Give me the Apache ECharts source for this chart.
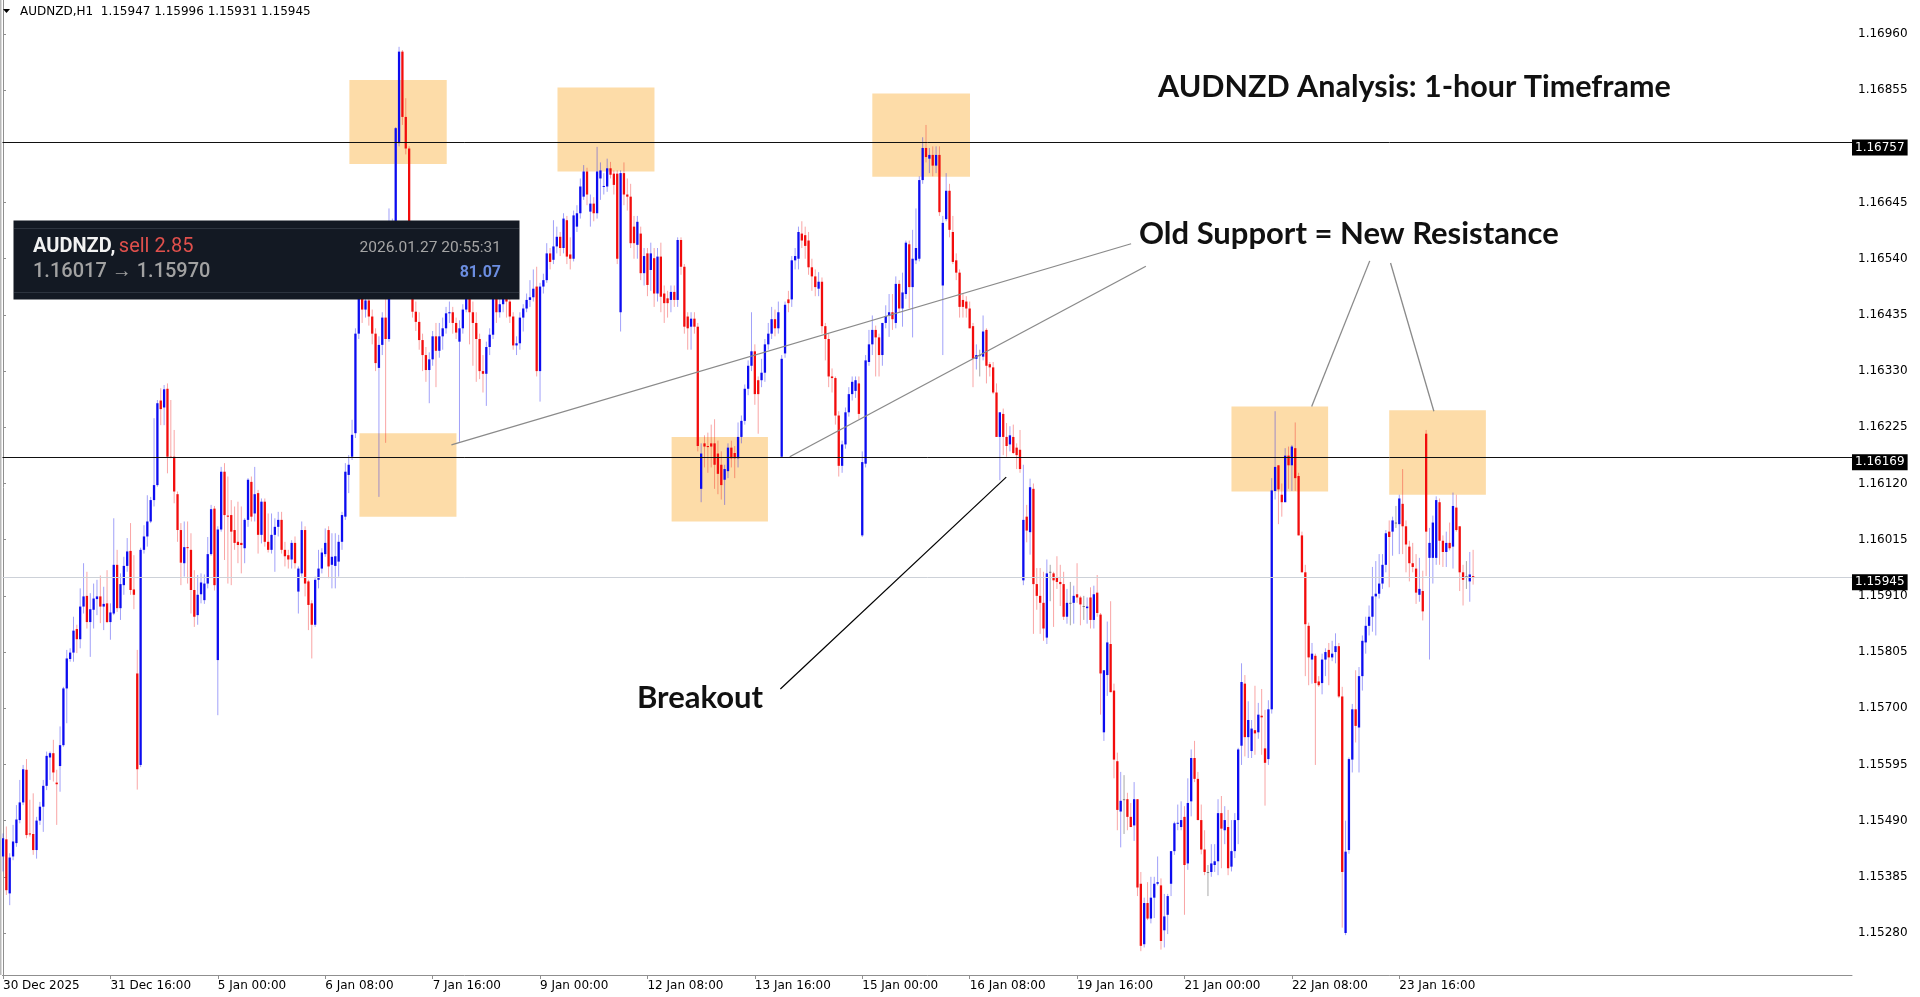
<!DOCTYPE html>
<html><head><meta charset="utf-8">
<script src="https://cdn.jsdelivr.net/npm/echarts@6/dist/echarts.min.js"></script>
<style>html,body{margin:0;padding:0;background:#fff;}#c{width:1920px;height:997px;}</style>
</head><body><div id="c"></div>
<script>
// AUDNZD H1 candles. Prices are stored in points (0.00001) above BASE.
const BASE = 1.15;
const openPts = [
423,455,354,423,448,491,524,585,466,465, 435,490,516,555,608,616,561,592,631,737,
792,804,848,829,890,910,861,884,904,909, 890,896,861,877,968,887,930,966,994,922,
765,594,996,1021,1049,1089,1117,1275,1262,1297, 1170,1170,1100,1033,971,1001,996,921,874,913,
902,933,988,1073,790,1034,1142,1060,1061,1033, 1011,1009,999,1052,1123,1064,1102,1024,1086,1011,
996,1024,1039,1052,996,986,978,1009,918,952, 1033,937,896,856,940,961,988,1033,968,966,
974,1011,1058,1136,1170,1214,1400,1470,1445,1462, 1432,1400,1336,1379,1430,1390,1560,1609,1756,1927,
1805,1746,1466,1441,1422,1388,1360,1332,1352,1395, 1368,1395,1410,1438,1440,1420,1385,1410,1445,1466,
1440,1420,1390,1330,1325,1375,1398,1466,1440,1455, 1480,1460,1432,1378,1382,1430,1447,1463,1468,1488,
1330,1488,1500,1550,1538,1563,1581,1560,1612,1548, 1540,1600,1625,1656,1703,1628,1643,1625,1690,1675,
1675,1709,1699,1699,1440,1700,1660,1656,1600,1566, 1587,1513,1550,1519,1541,1475,1544,1475,1466,1463,
1478,1463,1575,1525,1432,1413,1428,1413,1110,1195, 1190,1195,1195,1176,1155,1127,1143,1187,1177,1167,
1207,1237,1297,1340,1367,1313,1313,1327,1380,1400, 1427,1410,1170,1363,1464,1464,1537,1540,1587,1584,
1574,1524,1507,1484,1497,1414,1390,1320,1317,1247, 1153,1193,1253,1287,1293,1307,1023,1157,1347,1380,
1407,1393,1360,1420,1433,1440,1420,1493,1447,1474, 1567,1487,1537,1540,1687,1747,1727,1734,1714,1734,
1490,1614,1667,1590,1537,1514,1463,1460,1447,1414, 1353,1360,1357,1407,1343,1337,1290,1207,1250,1207,
1193,1207,1187,1183,939,1058,1029,1110,932,910, 897,832,955,952,945,936,932,871,897,897,
913,907,891,887,907,865,916,875,655,762, 820,733,601,507,530,530,497,481,530,372,
259,336,307,346,372,369,285,314,372,433, 485,478,497,410,526,607,568,491,436,394,
394,407,414,504,472,478,404,433,491,630, 746,646,620,659,655,686,625,605,698,1106,
1154,1099,1085,1172,1154,1186,1134,1023,954,854, 791,798,750,747,791,809,795,805,816,722,
280,435,604,698,664,760,823,854,871,909, 914,933,968,1030,1030,1047,1044,1082,1040,1002,
971,961,912,919,1213,981,981,981,1085,1013, 992,1009,1002,1075,1040,954,947,937,947];
const highPts = [
466,479,429,482,519,566,594,605,529,541, 497,525,566,619,619,641,585,666,740,809,
812,871,856,924,971,955,915,933,940,948, 927,958,896,1055,996,952,983,1018,1046,986,
809,1000,1042,1098,1095,1242,1276,1298,1304,1307, 1276,1220,1105,1046,1049,1049,1027,958,949,952,
950,1020,1080,1078,1040,1151,1158,1133,1089,1077, 1086,1077,1055,1130,1133,1151,1108,1092,1092,1064,
1064,1055,1067,1067,1011,996,1014,1021,965,1049, 1040,940,902,946,996,999,1036,1040,1027,1027,
1024,1067,1158,1173,1239,1410,1490,1500,1490,1480, 1445,1410,1395,1440,1470,1634,1615,1786,1936,1930,
1840,1750,1500,1460,1440,1400,1375,1365,1405,1420, 1420,1430,1450,1460,1450,1430,1425,1455,1490,1480,
1460,1440,1400,1360,1385,1410,1475,1480,1475,1495, 1490,1470,1440,1395,1440,1455,1475,1500,1520,1525,
1495,1512,1569,1560,1612,1600,1590,1625,1620,1580, 1630,1640,1690,1715,1710,1660,1655,1749,1720,1700,
1727,1721,1705,1705,1705,1720,1690,1680,1620,1620, 1600,1560,1560,1570,1560,1560,1570,1490,1480,1490,
1490,1580,1580,1530,1440,1440,1440,1420,1195,1210, 1215,1230,1240,1200,1180,1155,1195,1200,1190,1234,
1247,1305,1350,1440,1380,1320,1353,1390,1420,1450, 1445,1460,1360,1460,1480,1545,1560,1600,1610,1600,
1590,1540,1520,1515,1505,1420,1400,1335,1320,1255, 1200,1262,1300,1320,1320,1320,1180,1360,1407,1434,
1415,1400,1420,1453,1474,1474,1507,1500,1514,1574, 1574,1594,1634,1694,1767,1790,1747,1750,1750,1750,
1620,1700,1680,1620,1550,1520,1474,1470,1460,1420, 1380,1370,1434,1410,1347,1347,1307,1253,1260,1233,
1227,1230,1195,1220,1155,1080,1129,1120,962,962, 955,978,968,955,984,968,955,923,936,929,
971,910,910,907,926,929,949,878,771,862, 900,746,617,581,575,542,523,562,530,394,
346,375,385,385,423,382,353,353,433,488, 520,526,517,569,623,639,581,520,472,407,
446,446,530,536,517,510,491,504,626,784, 762,713,678,742,710,736,697,715,1130,1255,
1154,1120,1186,1189,1192,1234,1140,1030,968,860, 822,802,760,802,812,822,826,840,822,740,
490,608,708,771,777,836,871,892,964,975, 988,988,1033,1051,1058,1078,1099,1147,1051,1013,
1009,988,981,957,1220,1037,1060,1096,1092,1023, 1030,1047,1103,1099,1040,968,975,992,996];
const lowPts = [
395,351,332,416,441,485,519,457,460,426, 419,482,469,547,566,563,482,544,628,672,
787,787,803,812,877,849,796,849,874,859, 846,859,828,874,880,865,912,955,912,885,
548,590,989,1002,1046,1077,1114,1229,1229,1139, 1167,1083,1011,930,946,933,877,852,856,896,
895,924,985,920,687,1030,977,933,930,996, 971,952,971,1039,1049,1049,989,1008,1002,991,
989,955,1021,989,965,961,961,961,877,946, 909,846,793,852,924,952,983,943,924,924,
946,996,1052,1102,1164,1205,1390,1420,1430,1415, 1380,1330,1095,1360,1196,1385,1540,1600,1750,1790,
1735,1470,1430,1405,1370,1330,1310,1270,1340,1300, 1355,1370,1400,1420,1400,1390,1198,1400,1440,1380,
1340,1310,1315,1290,1265,1360,1390,1420,1430,1440, 1430,1420,1370,1360,1370,1404,1440,1450,1460,1320,
1273,1475,1495,1520,1530,1550,1545,1550,1530,1520, 1535,1590,1615,1650,1640,1600,1610,1615,1650,1660,
1665,1690,1660,1530,1404,1640,1630,1560,1540,1540, 1500,1490,1470,1480,1450,1460,1440,1420,1430,1440,
1450,1450,1510,1400,1370,1370,1400,1180,1085,1150, 1140,1150,1110,1100,1090,1080,1130,1150,1130,1150,
1195,1230,1285,1330,1267,1213,1300,1310,1370,1390, 1395,1400,1168,1355,1440,1450,1520,1520,1560,1540,
1510,1480,1470,1470,1400,1350,1300,1290,1230,1133, 1140,1185,1245,1275,1280,1240,1020,1150,1340,1360,
1320,1320,1340,1410,1394,1407,1410,1440,1413,1465, 1447,1393,1530,1535,1680,1720,1700,1694,1700,1620,
1360,1610,1580,1530,1500,1430,1430,1430,1410,1300, 1333,1320,1350,1307,1320,1287,1207,1126,1173,1170,
1180,1175,1147,1140,930,1010,987,839,884,839, 826,820,900,852,923,891,865,858,855,858,
897,855,865,858,849,849,871,688,639,723, 730,569,472,440,465,472,478,452,349,246,
253,304,298,308,369,249,253,278,349,426, 472,472,314,398,498,562,491,427,388,349,
385,394,388,401,446,388,395,420,446,594, 610,607,607,613,643,613,518,594,690,1090,
1044,1058,1085,1110,1106,1106,1023,954,760,743, 746,594,740,726,760,743,788,784,719,290,
276,428,580,636,580,733,802,836,843,836, 905,923,954,926,985,1037,988,988,954,937,
954,895,899,864,947,791,933,968,968,964, 964,995,961,1030,919,892,923,899,931];
const closePts = [
457,360,421,451,492,524,586,463,465,435, 490,516,555,611,616,580,558,631,737,793,
804,845,829,890,909,861,885,905,909,890, 895,861,879,968,887,932,966,993,921,912,
586,996,1021,1049,1089,1117,1270,1259,1296,1170, 1169,1105,1033,972,1001,1000,921,871,912,935,
933,988,1072,930,1034,1142,1061,1058,1030,1009, 1005,1005,1052,1127,1058,1100,1024,1086,1011,996,
1024,1039,1052,996,984,978,1009,971,961,1033, 933,893,856,940,961,991,1009,965,983,984,
1011,1061,1142,1155,1211,1400,1480,1445,1462,1432, 1400,1345,1379,1430,1390,1560,1600,1784,1927,1805,
1746,1480,1441,1422,1388,1360,1332,1352,1395,1368, 1395,1410,1438,1440,1420,1402,1410,1445,1466,1440,
1420,1390,1330,1325,1375,1398,1466,1440,1455,1480, 1460,1432,1378,1382,1430,1447,1463,1468,1484,1330,
1488,1500,1550,1534,1563,1581,1560,1615,1544,1540, 1621,1625,1675,1703,1660,1643,1625,1703,1705,1676,
1709,1697,1678,1540,1700,1660,1656,1569,1569,1609, 1513,1545,1491,1550,1475,1544,1469,1457,1457,1478,
1463,1575,1525,1413,1410,1428,1413,1190,1176,1189, 1188,1189,1155,1138,1117,1147,1187,1167,1167,1207,
1237,1297,1340,1367,1287,1287,1327,1380,1400,1427, 1410,1440,1353,1454,1457,1537,1545,1590,1574,1564,
1524,1507,1487,1497,1414,1390,1320,1317,1247,1153, 1193,1253,1287,1310,1313,1250,1160,1350,1380,1407,
1393,1360,1420,1433,1440,1427,1493,1447,1477,1570, 1487,1540,1560,1687,1747,1730,1734,1714,1734,1627,
1607,1667,1594,1534,1514,1450,1450,1447,1410,1353, 1360,1360,1404,1340,1337,1290,1207,1253,1207,1190,
1210,1177,1173,1147,1052,1032,1113,932,910,897, 849,952,955,939,936,932,871,897,897,910,
907,894,891,890,865,913,878,765,771,823, 730,604,510,527,530,497,478,530,365,256,
336,307,346,372,375,265,311,349,433,485, 486,491,407,523,607,568,491,436,394,394,
410,414,504,475,491,401,433,491,623,749, 646,678,662,653,688,683,598,698,1107,1151,
1109,1085,1172,1154,1189,1130,1023,954,857,795, 802,747,743,791,805,795,802,816,722,394,
432,605,698,667,760,826,854,871,909,914, 933,968,1027,1020,1051,1047,1092,1040,1006,971,
964,916,923,881,1030,1009,1047,1089,1013,992, 1009,999,1078,1033,954,940,947,950,945];

// time axis: one label every 32 bars
const xTickEvery = 32;
const xTickLabels = ['30 Dec 2025','31 Dec 16:00','5 Jan 00:00','6 Jan 08:00','7 Jan 16:00','9 Jan 00:00',
  '12 Jan 08:00','13 Jan 16:00','15 Jan 00:00','16 Jan 08:00','19 Jan 16:00','21 Jan 00:00','22 Jan 08:00','23 Jan 16:00'];
const yTicks = [1.15280,1.15385,1.15490,1.15595,1.15700,1.15805,1.15910,1.16015,1.16120,1.16225,
  1.16330,1.16435,1.16540,1.16645,1.16855,1.16960];

// horizontal levels
const levels = [1.16757, 1.16169];
// highlighted zones [bar1, price1, bar2, price2]
const zones = [
  [103.2,1.16874,132.2,1.16717],[106.2,1.16214,135.1,1.16058],[165.2,1.16860,194.1,1.16703],
  [199.2,1.16207,227.9,1.16049],[259.0,1.16849,288.1,1.16693],[366.0,1.16264,394.8,1.16105],
  [413.0,1.16257,441.8,1.16099]];
// trend / pointer lines [bar1, price1, bar2, price2]
const greyLines = [
  [133.6,1.16192,336.1,1.16568],[234.4,1.16170,340.5,1.16526],
  [407.2,1.16536,389.9,1.16264],[413.4,1.16532,426.3,1.16255]];
const breakoutLine = [231.6,1.15736,298.9,1.16132];

// trade panel
const trade = {symbol:'AUDNZD,', side:'sell 2.85', from:'1.16017', to:'1.15970', time:'2026.01.27 20:55:31', profit:'81.07'};

const X_MIN = -0.15, X_MAX = 550.88, Y_MIN = 1.152015, Y_MAX = 1.170235;

const P = v => +(BASE + v / 100000).toFixed(5);
const candles = openPts.map((o, i) => [i, P(o), P(closePts[i]), P(lowPts[i]), P(highPts[i])]);
const last = openPts.length - 1;
const header = 'AUDNZD,H1  ' + [openPts[last], highPts[last], lowPts[last], closePts[last]].map(v => P(v).toFixed(5)).join(' ');
const current = P(closePts[last]);
const xTickVals = xTickLabels.map((_, k) => k * xTickEvery);

function renderCandle(params, api) {
  const i = api.value(0), o = api.value(1), c = api.value(2), l = api.value(3), h = api.value(4);
  const pO = api.coord([i, o]), pC = api.coord([i, c]), pL = api.coord([i, l]), pH = api.coord([i, h]);
  const x = pO[0];
  const up = c > o, dn = c < o;
  const body = up ? '#0c0cf0' : dn ? '#f20c0c' : '#7a7a7a';
  const wick = up ? 'rgba(30,30,240,0.42)' : dn ? 'rgba(240,30,30,0.40)' : 'rgba(110,110,110,0.6)';
  const top = Math.min(pO[1], pC[1]);
  const hgt = Math.max(1, Math.abs(pO[1] - pC[1]));
  return {type: 'group', children: [
    {type: 'line', shape: {x1: x, y1: pH[1], x2: x, y2: pL[1]}, style: {stroke: wick, lineWidth: 1}},
    {type: 'rect', shape: {x: x - 1.15, y: top, width: 2.3, height: hgt}, style: {fill: body}}
  ]};
}

const tagLabel = (txt) => ({show: true, position: 'end', formatter: txt, distance: 0, offset: [0, 5],
  backgroundColor: '#000', color: '#fff', padding: [2, 3, 1, 3], lineHeight: 13, fontSize: 12, fontFamily: 'DejaVu Sans'});

const hLine = (v, color) => [
  {coord: [X_MIN, v], lineStyle: {color: color, width: 1, type: 'solid'}, label: tagLabel(v.toFixed(5))},
  {coord: [X_MAX, v]}];

const markData = [
  hLine(current, '#cdd1d8'),
  ...levels.map(v => hLine(v, '#111')),
  ...greyLines.map(g => [{coord: [g[0], g[1]], lineStyle: {color: '#8a8a8a', width: 1.3, type: 'solid'}, label: {show: false}}, {coord: [g[2], g[3]]}]),
  [{coord: [breakoutLine[0], breakoutLine[1]], lineStyle: {color: '#000', width: 1.2, type: 'solid'}, label: {show: false}}, {coord: [breakoutLine[2], breakoutLine[3]]}]
];

const chart = echarts.init(document.getElementById('c'), null, {renderer: 'canvas'});
chart.setOption({
  animation: false,
  backgroundColor: '#fff',
  textStyle: {fontFamily: 'DejaVu Sans'},
  grid: {left: 0, right: 68, top: 0, bottom: 22, containLabel: false},
  xAxis: {
    type: 'value', min: X_MIN, max: X_MAX,
    axisLine: {show: true, onZero: false, lineStyle: {color: '#8f8f8f', width: 1}},
    axisTick: {show: true, customValues: xTickVals, length: 4, lineStyle: {color: '#8f8f8f'}},
    axisLabel: {customValues: xTickVals, formatter: v => xTickLabels[Math.round(v / xTickEvery)] || '',
      align: 'left', margin: 5, color: '#000', fontSize: 12, fontFamily: 'DejaVu Sans'},
    splitLine: {show: false}
  },
  yAxis: {
    type: 'value', position: 'right', min: Y_MIN, max: Y_MAX,
    axisLine: {show: true, lineStyle: {color: '#8f8f8f', width: 1}},
    axisTick: {show: true, customValues: yTicks, length: 3, lineStyle: {color: '#8f8f8f'}},
    axisLabel: {customValues: yTicks, formatter: v => v.toFixed(5), margin: 6, color: '#000', fontSize: 12, fontFamily: 'DejaVu Sans'},
    splitLine: {show: false}
  },
  series: [
    {type: 'line', name: 'zones', data: [], z: 1, silent: true,
      markArea: {silent: true, itemStyle: {color: '#fddca8', opacity: 1},
        data: zones.map(z => [{coord: [z[0], z[1]]}, {coord: [z[2], z[3]]}])}},
    {type: 'custom', name: 'AUDNZD', renderItem: renderCandle, data: candles, z: 3, clip: true,
      encode: {x: 0, y: [1, 2, 3, 4]}},
    {type: 'line', name: 'lines', data: [], z: 4, silent: true, clip: false,
      markLine: {silent: true, symbol: ['none', 'none'], animation: false, data: markData}}
  ],
  graphic: [
    {type: 'rect', z: 100, shape: {x: 0, y: 0, width: 1.5, height: 975}, style: {fill: '#b9b9b9'}},
    {type: 'polygon', z: 100, shape: {points: [[3, 9], [10, 9], [6.5, 13]]}, style: {fill: '#000'}},
    {type: 'text', z: 100, x: 20, y: 11.5, style: {text: header, font: '12px "DejaVu Sans"', fill: '#000', verticalAlign: 'middle'}},
    {type: 'text', z: 100, x: 1158, y: 87, style: {text: 'AUDNZD Analysis: 1-hour Timeframe', font: 'bold 30.5px Lato', fill: '#111', verticalAlign: 'middle'}},
    {type: 'text', z: 100, x: 1139, y: 234, style: {text: 'Old Support = New Resistance', font: 'bold 31px Lato', fill: '#111', verticalAlign: 'middle'}},
    {type: 'text', z: 100, x: 637, y: 698, style: {text: 'Breakout', font: 'bold 31px Lato', fill: '#111', verticalAlign: 'middle'}},
    {type: 'group', z: 110, children: [
      {type: 'rect', z: 110, shape: {x: 13.5, y: 220.5, width: 506, height: 79}, style: {fill: '#131923'}},
      {type: 'line', z: 111, shape: {x1: 14, y1: 228.5, x2: 519, y2: 228.5}, style: {stroke: '#2c333e', lineWidth: 1}},
      {type: 'line', z: 111, shape: {x1: 14, y1: 292.5, x2: 519, y2: 292.5}, style: {stroke: '#2c333e', lineWidth: 1}},
      {type: 'text', z: 112, x: 33, y: 247, style: {
        text: '{a|' + trade.symbol + '} {b|' + trade.side + '}', verticalAlign: 'middle',
        rich: {a: {font: 'bold 20px Roboto', fill: '#f2f2f2'}, b: {font: '20px Roboto', fill: '#e0504c'}}}},
      {type: 'text', z: 112, x: 33, y: 272, style: {text: trade.from + ' \u2192 ' + trade.to, font: '500 20px Roboto', fill: '#a2a2a2', verticalAlign: 'middle'}},
      {type: 'text', z: 112, x: 501, y: 248, style: {text: trade.time, font: '15.5px Roboto', fill: '#a5a5a5', align: 'right', verticalAlign: 'middle'}},
      {type: 'text', z: 112, x: 501, y: 273, style: {text: trade.profit, font: 'bold 16px Roboto', fill: '#6b8de0', align: 'right', verticalAlign: 'middle'}}
    ]}
  ]
});
</script>
</body></html>
